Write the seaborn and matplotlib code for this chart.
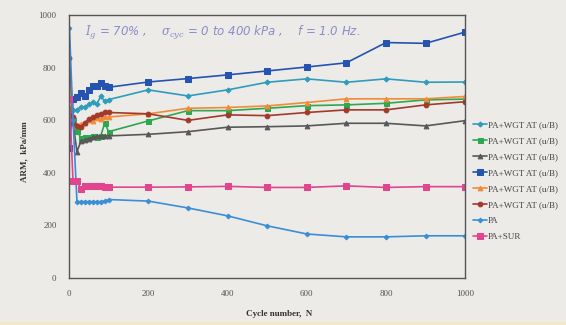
import matplotlib
matplotlib.use("Agg")
import matplotlib.pyplot as plt
import seaborn as sns
import pandas as pd
from matplotlib.patches import Rectangle

# Cycle numbers at which ARM was recorded
cycles = [1, 10, 20, 30, 40, 50, 60, 70, 80, 90, 100,
          200, 300, 400, 500, 600, 700, 800, 900, 1000]

# ARM (kPa/mm) for each test series
arm_wgt_teal = [642, 638, 640, 650, 648, 660, 668, 662, 690, 672, 678,
                715, 692, 715, 744, 757, 744, 757, 744, 745]
arm_wgt_green = [645, 600, 560, 532, 537, 535, 540, 537, 540, 589, 556,
                 597, 636, 636, 645, 655, 658, 664, 677, 680]
arm_wgt_gray = [610, 590, 480, 520, 525, 530, 535, 538, 540, 540, 540,
                546, 556, 573, 575, 578, 588, 588, 578, 598]
arm_wgt_blue = [494, 680, 688, 703, 690, 715, 730, 728, 741, 728, 725,
                745, 758, 772, 787, 802, 818, 895, 892, 935]
arm_wgt_orange = [753, 610, 582, 585, 590, 600, 598, 608, 605, 612, 612,
                  624, 645, 648, 654, 667, 681, 681, 681, 690]
arm_wgt_brown = [836, 610, 578, 575, 590, 605, 612, 618, 625, 629, 629,
                 624, 599, 620, 617, 629, 639, 639, 658, 670]
arm_pa = [950, 600, 290, 290, 290, 290, 290, 290, 290, 292, 298,
          292, 266, 236, 198, 167, 156, 156, 160, 160]
arm_pa_sur = [680, 368, 368, 338, 350, 350, 348, 348, 348, 345, 345,
              345, 346, 348, 344, 344, 350, 344, 347, 347]

labels = ["PA+WGT AT (u/B)"] * 6 + ["PA", "PA+SUR"]
series = [arm_wgt_teal, arm_wgt_green, arm_wgt_gray, arm_wgt_blue,
          arm_wgt_orange, arm_wgt_brown, arm_pa, arm_pa_sur]
colors = ["#2f9cbc", "#2ea84e", "#585858", "#2553b0",
          "#f28a3a", "#a3392b", "#3a8ed6", "#e0458e"]
markers = ["D", "s", "^", "s", "^", "o", "D", "s"]
msizes = [2.6, 3.6, 3.4, 3.8, 3.4, 3.4, 2.4, 3.8]

sns.set_theme(style="white")
plt.rcParams["font.family"] = ["Liberation Serif", "DejaVu Serif"]
plt.rcParams["mathtext.fontset"] = "dejavuserif"

bg = "#ecebe8"
fig = plt.figure(figsize=(5.66, 3.25), dpi=100, facecolor=bg)
ax = fig.add_axes([0.122, 0.145, 0.700, 0.809])
ax.set_facecolor(bg)

# light cream strip along the bottom edge of the page
fig.patches.append(Rectangle((0, 0), 1, 0.01, transform=fig.transFigure,
                             facecolor="#f4e7c6", edgecolor="none", zorder=-5))

for vals, lab, col, mk, ms in zip(series, labels, colors, markers, msizes):
    df = pd.DataFrame({"N": cycles, "ARM": vals})
    sns.lineplot(data=df, x="N", y="ARM", ax=ax, color=col, marker=mk,
                 markersize=ms, markeredgecolor=col, linewidth=1.2,
                 label=lab, sort=False)

ax.set_xlim(0, 1000)
ax.set_ylim(0, 1000)
ax.set_xticks([0, 200, 400, 600, 800, 1000])
ax.set_yticks([0, 200, 400, 600, 800, 1000])
ax.tick_params(axis="both", labelsize=6.5, colors="#444444", length=2,
               direction="out", pad=7)
ax.tick_params(axis="both", labelcolor="#555555")
for sp in ax.spines.values():
    sp.set_color("#555555")
    sp.set_linewidth(1.0)

ax.set_xlabel("Cycle number,  N", fontsize=6.5, fontweight="bold",
              color="#333333")
ax.set_ylabel("ARM,  kPa/mm", fontsize=6.5, fontweight="bold",
              color="#333333")
ax.xaxis.set_label_coords(0.53, -0.137)
ax.xaxis.label.set_va("center")
ax.yaxis.set_label_coords(-0.112, 0.48)
ax.yaxis.label.set_va("center")

ax.text(0.04, 0.965,
        r"$I_g$ = 70% ,    $\sigma_{cyc}$ = 0 to 400 kPa ,    f = 1.0 Hz.",
        transform=ax.transAxes, fontsize=8.5, color="#8a8cc8",
        style="italic", family=["DejaVu Sans"], va="top", ha="left")

leg = ax.legend(loc="upper left", bbox_to_anchor=(1.01, 0.61),
                frameon=False, fontsize=6.5, handlelength=1.6,
                handletextpad=0.1, labelspacing=0.85, borderaxespad=0)
for t in leg.get_texts():
    t.set_color("#444444")

fig.savefig("out.png", dpi=100, facecolor=bg)
